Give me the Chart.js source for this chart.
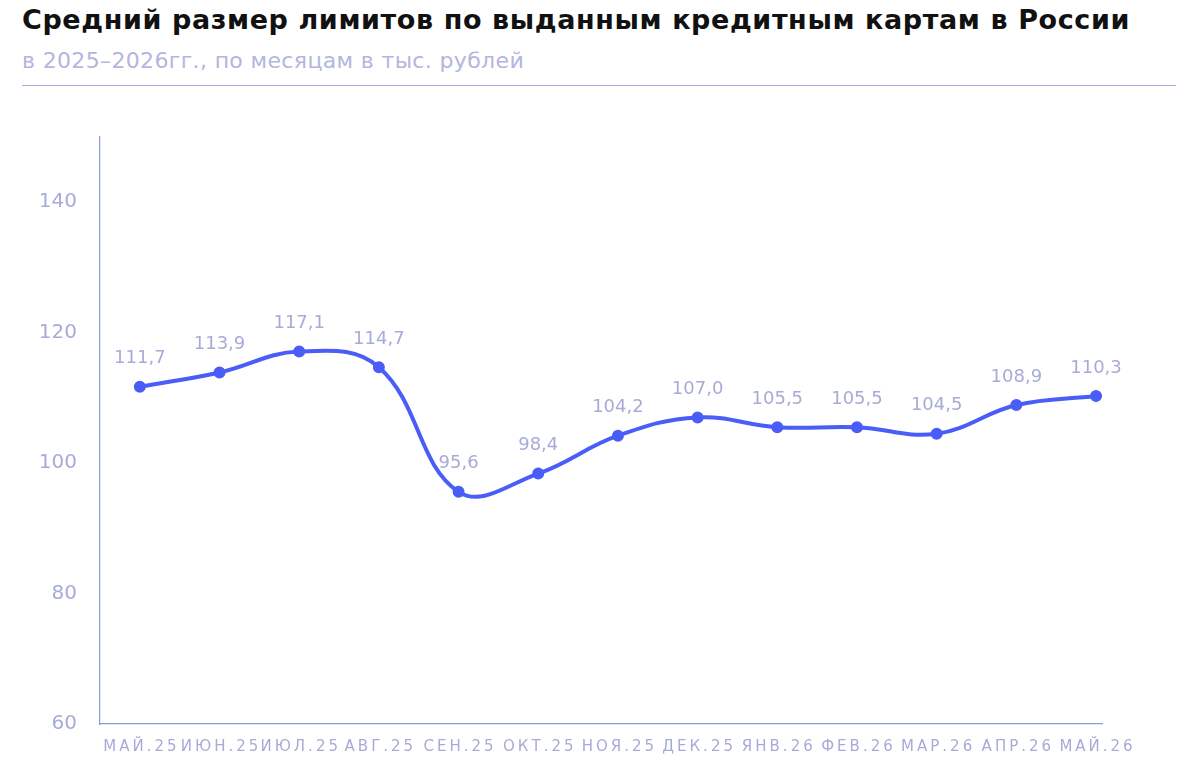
<!DOCTYPE html>
<html lang="ru">
<head>
<meta charset="utf-8">
<script src="https://cdn.jsdelivr.net/npm/chart.js@4"></script>
<style>
  html, body { margin: 0; padding: 0; background: #fff; }
  #wrap { position: relative; width: 1200px; height: 780px; overflow: hidden; }
  #title {
    position: absolute; left: 22px; top: 4px; margin: 0; white-space: nowrap;
    font: 700 27px "DejaVu Sans", sans-serif; color: #111; letter-spacing: 0.6px;
  }
  #subtitle {
    position: absolute; left: 22px; top: 48px; margin: 0; white-space: nowrap;
    font: 400 22px "DejaVu Sans", sans-serif; color: #b3b6de; letter-spacing: 0.35px;
  }
  #rule { position: absolute; left: 22px; top: 85px; width: 1154px; height: 1px; background: #a9afe0; }
  #chart { position: absolute; left: 0; top: 0; }
</style>
</head>
<body>
<div id="wrap">
  <h1 id="title">Средний размер лимитов по выданным кредитным картам в России</h1>
  <p id="subtitle">в 2025–2026гг., по месяцам в тыс. рублей</p>
  <div id="rule"></div>
  <canvas id="chart" width="1200" height="780"></canvas>
</div>
<script>
  // data
  const months = ['МАЙ.25', 'ИЮН.25', 'ИЮЛ.25', 'АВГ.25', 'СЕН.25', 'ОКТ.25', 'НОЯ.25',
                  'ДЕК.25', 'ЯНВ.26', 'ФЕВ.26', 'МАР.26', 'АПР.26', 'МАЙ.26'];
  const limits = [111.7, 113.9, 117.1, 114.7, 95.6, 98.4, 104.2, 107.0, 105.5, 105.5, 104.5, 108.9, 110.3];
  const yTicks = [60, 80, 100, 120, 140];

  const lineColor = '#4a5df6';
  const textColor = '#a7abd7';
  const axisColor = '#8d96de';
  const fontFamily = '"DejaVu Sans", sans-serif';

  // value labels above points + month labels under axis
  const labelsPlugin = {
    id: 'labelsPlugin',
    afterDatasetsDraw(chart) {
      const ctx = chart.ctx;
      const meta = chart.getDatasetMeta(0);
      ctx.save();
      ctx.fillStyle = textColor;
      ctx.textAlign = 'center';
      ctx.textBaseline = 'middle';
      ctx.font = '18px ' + fontFamily;
      meta.data.forEach((pt, i) => {
        ctx.fillText(limits[i].toFixed(1).replace('.', ','), pt.x, pt.y - 28);
      });
      const xScale = chart.scales.x;
      ctx.font = '15px ' + fontFamily;
      ctx.letterSpacing = '3px';
      months.forEach((m, i) => {
        ctx.fillText(m, xScale.getPixelForValue(i) + 1.5, 747);
      });
      ctx.restore();
    }
  };

  new Chart(document.getElementById('chart'), {
    type: 'line',
    data: {
      datasets: [{
        data: limits.map((v, i) => ({ x: i, y: v })),
        borderColor: lineColor,
        backgroundColor: lineColor,
        borderWidth: 4,
        pointRadius: 4,
        pointHoverRadius: 4,
        tension: 0.4,
        fill: false
      }]
    },
    options: {
      responsive: false,
      animation: false,
      events: [],
      layout: { padding: { top: 137, right: 98, left: 0, bottom: 0 } },
      plugins: { legend: { display: false }, tooltip: { enabled: false } },
      scales: {
        x: {
          type: 'linear',
          min: -0.5,
          max: 12.075,
          afterBuildTicks: (scale) => { scale.ticks = months.map((m, i) => ({ value: i })); },
          afterFit: (scale) => { scale.height = 56; },
          grid: { display: false },
          border: { display: true, color: axisColor, width: 1.2 },
          ticks: { display: false }
        },
        y: {
          min: 60,
          max: 150,
          afterBuildTicks: (scale) => { scale.ticks = yTicks.map(v => ({ value: v })); },
          afterFit: (scale) => { scale.width = 100; },
          grid: { display: false },
          border: { display: true, color: axisColor, width: 1.2 },
          ticks: {
            color: textColor,
            padding: 15,
            font: { family: fontFamily, size: 20 }
          }
        }
      }
    },
    plugins: [labelsPlugin]
  });
</script>
</body>
</html>
